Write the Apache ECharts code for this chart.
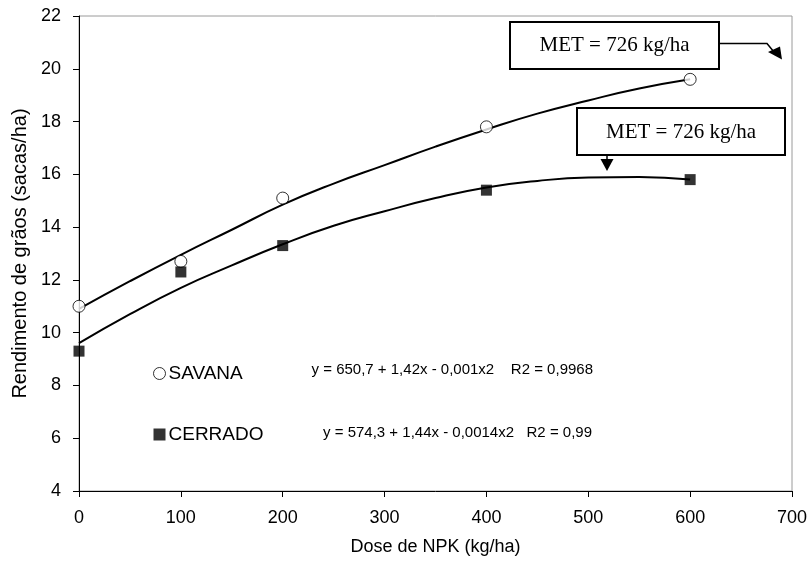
<!DOCTYPE html>
<html><head><meta charset="utf-8">
<script src="https://cdn.jsdelivr.net/npm/echarts@6/dist/echarts.min.js"></script>
<style>html,body{margin:0;padding:0;background:#fff}#c{width:811px;height:570px}</style>
</head><body><div id="c"></div>
<script>
// Observed data
const doses = [0, 100, 200, 400, 600];
const savana = [11.0, 12.7, 15.1, 17.8, 19.6];
const cerrado = [9.3, 12.3, 13.3, 15.4, 15.8];
// Trend curves
const trendX = [0, 50, 100, 150, 200, 250, 300, 350, 400, 450, 500, 550, 600];
const trendSavana = [10.9, 11.95, 12.95, 13.9, 14.85, 15.65, 16.35, 17.05, 17.7, 18.3, 18.8, 19.25, 19.6];
const trendCerrado = [9.6, 10.7, 11.7, 12.55, 13.35, 14.05, 14.6, 15.1, 15.5, 15.75, 15.88, 15.9, 15.8];
const xTicks = [0, 700, 100];   // min, max, interval
const yTicks = [4, 22, 2];
const eqSavana = 'y = 650,7 + 1,42x - 0,001x2    R2 = 0,9968';
const eqCerrado = 'y = 574,3 + 1,44x - 0,0014x2   R2 = 0,99';
const metLabel = 'MET = 726 kg/ha';

const pairs = (xs, ys) => xs.map((x, i) => [x, ys[i]]);
const chart = echarts.init(document.getElementById('c'));
const font = 'Liberation Sans, Arial, sans-serif';
const serif = 'Liberation Serif, Times New Roman, serif';

chart.setOption({
  animation: false,
  backgroundColor: '#fff',
  grid: { left: 79, right: 19, top: 16, bottom: 79, show: true, borderColor: '#9a9a9a', borderWidth: 1, backgroundColor: 'transparent' },
  xAxis: {
    type: 'value', min: xTicks[0], max: xTicks[1], interval: xTicks[2],
    name: 'Dose de NPK (kg/ha)', nameLocation: 'middle', nameGap: 47,
    nameTextStyle: { fontFamily: font, fontSize: 18, color: '#000' },
    axisLine: { show: true, lineStyle: { color: '#000', width: 1 } },
    axisTick: { show: true, length: 6, lineStyle: { color: '#000' } },
    axisLabel: { fontFamily: font, fontSize: 18, color: '#000', margin: 18 },
    splitLine: { show: false }
  },
  yAxis: {
    type: 'value', min: yTicks[0], max: yTicks[1], interval: yTicks[2],
    name: 'Rendimento de grãos (sacas/ha)', nameLocation: 'middle', nameGap: 48,
    nameTextStyle: { fontFamily: font, fontSize: 20, color: '#000' },
    axisLine: { show: true, lineStyle: { color: '#000', width: 1 } },
    axisTick: { show: true, length: 6, lineStyle: { color: '#000' } },
    axisLabel: { fontFamily: font, fontSize: 18, color: '#000', margin: 18 },
    splitLine: { show: false }
  },
  legend: {
    show: true, orient: 'vertical', left: 148, top: 359,
    itemWidth: 12, itemHeight: 12, itemGap: 42,
    textStyle: { fontFamily: font, fontSize: 19, color: '#000', padding: [0, 0, 0, -2] },
    data: [
      { name: 'SAVANA', icon: 'circle', itemStyle: { color: '#fff', borderColor: '#000', borderWidth: 1 } },
      { name: 'CERRADO', icon: 'rect', itemStyle: { color: '#000' } }
    ]
  },
  series: [
    { name: 'trendS', type: 'line', data: pairs(trendX, trendSavana), smooth: true, showSymbol: false, lineStyle: { color: '#000', width: 2 }, z: 2 },
    { name: 'trendC', type: 'line', data: pairs(trendX, trendCerrado), smooth: true, showSymbol: false, lineStyle: { color: '#000', width: 2 }, z: 2 },
    { name: 'SAVANA', type: 'scatter', data: pairs(doses, savana), symbol: 'circle', symbolSize: 12, clip: false,
      itemStyle: { color: '#fff', borderColor: '#000', borderWidth: 1 }, z: 3 },
    { name: 'CERRADO', type: 'scatter', data: pairs(doses, cerrado), symbol: 'rect', symbolSize: 11, clip: false,
      itemStyle: { color: '#000' }, z: 3 }
  ],
  graphic: [
    { type: 'text', x: 593, y: 370, style: { text: eqSavana, font: '15px ' + font, fill: '#000', align: 'right', verticalAlign: 'middle' } },
    { type: 'text', x: 592, y: 433, style: { text: eqCerrado, font: '15px ' + font, fill: '#000', align: 'right', verticalAlign: 'middle' } },
    // Box 1
    { type: 'rect', shape: { x: 510, y: 22, width: 209, height: 47 }, style: { fill: '#fff', stroke: '#000', lineWidth: 2 }, z: 10 },
    { type: 'text', x: 614.5, y: 45.5, style: { text: metLabel, font: '21px ' + serif, fill: '#000', align: 'center', verticalAlign: 'middle' }, z: 11 },
    { type: 'polyline', shape: { points: [[720, 43.5], [767, 43.5], [774, 52]] }, style: { stroke: '#000', lineWidth: 1.5, fill: null }, z: 10 },
    { type: 'polygon', shape: { points: [[768, 52], [780, 46.5], [782, 59.5]] }, style: { fill: '#000' }, z: 10 },
    // Box 2
    { type: 'rect', shape: { x: 577, y: 108, width: 208, height: 47 }, style: { fill: '#fff', stroke: '#000', lineWidth: 2 }, z: 10 },
    { type: 'text', x: 681, y: 132, style: { text: metLabel, font: '21px ' + serif, fill: '#000', align: 'center', verticalAlign: 'middle' }, z: 11 },
    { type: 'line', shape: { x1: 607, y1: 155, x2: 607, y2: 160 }, style: { stroke: '#000', lineWidth: 1.5 }, z: 10 },
    { type: 'polygon', shape: { points: [[600.5, 159], [613.5, 159], [607, 171]] }, style: { fill: '#000' }, z: 10 }
  ]
});
</script></body></html>
